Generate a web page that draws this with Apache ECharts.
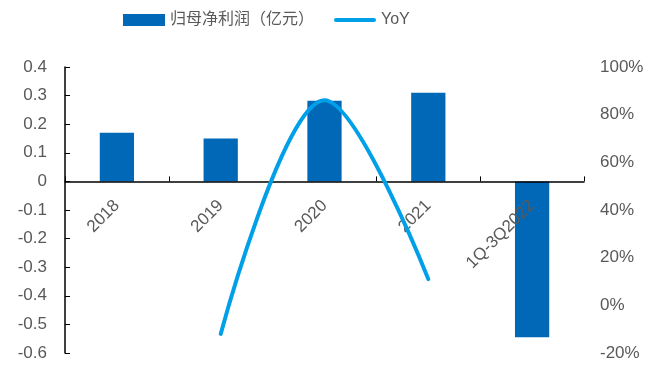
<!DOCTYPE html>
<html>
<head>
<meta charset="utf-8">
<script src="https://cdn.jsdelivr.net/npm/echarts@6/dist/echarts.min.js"></script>
<style>
  html, body { margin: 0; padding: 0; background: #fff; }
  #chart { width: 667px; height: 367px; }
</style>
</head>
<body>
<div id="chart"></div>
<script>
// 数据
const categories = ['2018', '2019', '2020', '2021', '1Q-3Q2022'];
const profit = [0.17, 0.15, 0.282, 0.31, -0.545];   // 归母净利润（亿元）
const yoy = [null, -12, 86, 11, null];               // YoY (%)

const textColor = '#595959';
const font = 'Liberation Sans, Arial, Noto Sans CJK SC, sans-serif';

let myChart = echarts.init(document.getElementById('chart'));
myChart.setOption({
  animation: false,
  textStyle: { fontFamily: font },
  legend: {
    top: 7,
    left: 118,
    itemGap: 20,
    itemWidth: 42,
    itemHeight: 12,
    textStyle: { color: textColor, fontSize: 16, fontFamily: font },
    data: [
      { name: '归母净利润（亿元）', icon: 'rect' },
      { name: 'YoY', icon: 'path://M2,0 L40,0 A2,2 0 0 1 40,4 L2,4 A2,2 0 0 1 2,0 Z' }
    ]
  },
  grid: {
    left: 65,
    right: 83,
    top: 67,
    bottom: 14,
    containLabel: false,
    outerBoundsMode: 'none'
  },
  xAxis: [
    {
      type: 'category',
      data: categories,
      z: 2,
      axisLine: { onZero: true, lineStyle: { color: '#000', width: 1.5 } },
      axisTick: { show: true, inside: true, length: 5, lineStyle: { color: '#000' } },
      axisLabel: { show: false },
      splitLine: { show: false }
    },
    {
      // 只用来在零线下方画类目标签
      type: 'category',
      data: categories,
      position: 'bottom',
      offset: -172,
      z: 2,
      axisLine: { show: false, onZero: false },
      axisTick: { show: false },
      axisLabel: {
        rotate: 45,
        color: textColor,
        fontSize: 17,
        margin: 22,
        interval: 0
      },
      splitLine: { show: false }
    }
  ],
  yAxis: [
    {
      type: 'value',
      min: -0.6,
      max: 0.4,
      interval: 0.1,
      axisLine: { show: true, lineStyle: { color: '#000', width: 1.5 } },
      axisTick: { show: true, inside: true, length: 5, lineStyle: { color: '#000' } },
      axisLabel: {
        color: textColor,
        fontSize: 17,
        margin: 18,
        formatter: v => {
          const r = Math.round(v * 10) / 10;
          return r === 0 ? '0' : r.toFixed(1);
        }
      },
      splitLine: { show: false }
    },
    {
      type: 'value',
      min: -20,
      max: 100,
      interval: 20,
      position: 'right',
      axisLine: { show: false },
      axisTick: { show: false },
      axisLabel: {
        color: textColor,
        fontSize: 17,
        margin: 16,
        formatter: v => v + '%'
      },
      splitLine: { show: false }
    }
  ],
  series: [
    {
      name: '归母净利润（亿元）',
      type: 'bar',
      z: 1,
      data: profit,
      barWidth: '33%',
      itemStyle: { color: '#0068B7' }
    },
    {
      name: 'YoY',
      type: 'line',
      z: 3,
      yAxisIndex: 1,
      data: yoy,
      smooth: 0.35,
      symbol: 'none',
      connectNulls: false,
      lineStyle: { color: '#00A0E9', width: 4, cap: 'round' },
      itemStyle: { color: '#00A0E9' }
    }
  ]
});
</script>
</body>
</html>
